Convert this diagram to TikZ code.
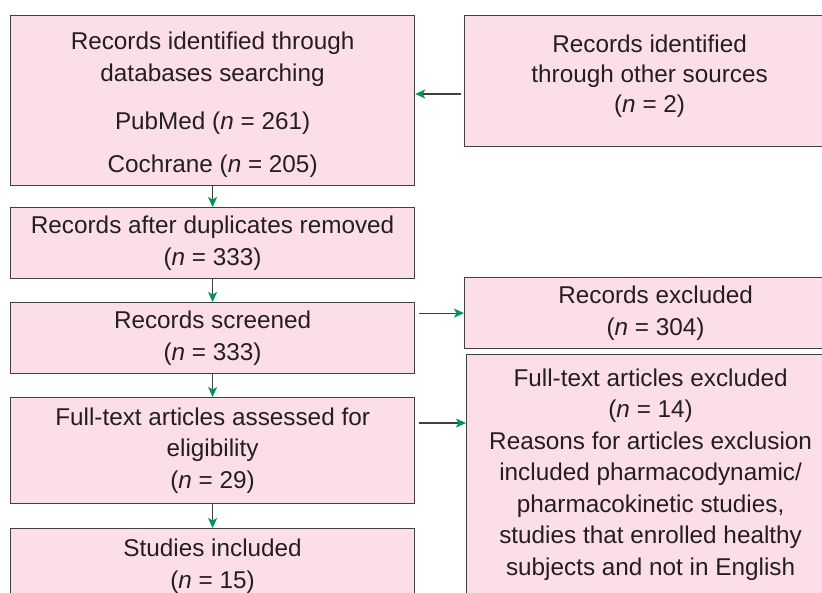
\documentclass[tikz,border=0pt]{standalone}
\usepackage{fontspec}
\setmainfont{Liberation Sans}
\usetikzlibrary{arrows.meta}
\definecolor{boxfill}{RGB}{252,222,233}
\definecolor{boxline}{RGB}{64,64,64}
\definecolor{txt}{RGB}{35,31,32}
\definecolor{agreen}{RGB}{0,150,80}
\tikzset{
  boxbase/.style={draw=boxline, fill=boxfill, line width=1.2pt, anchor=north west,
    inner sep=0pt, text=txt, font=\fontsize{24.3}{31.5}\selectfont},
  box/.style={boxbase, align=center},
  arr/.style={draw=boxline, line width=1.2pt,
    -{Stealth[length=10pt,width=9pt,inset=2.5pt,color=agreen]}},
}
\begin{document}
\begin{tikzpicture}[x=1pt,y=-1pt]
\useasboundingbox (0,0) rectangle (822,592);
\clip (0,0) rectangle (822,592);
\node[boxbase] (b1) at (10,15)
  {\parbox[c][170pt][c]{404pt}{\centering\vspace*{8pt}Records identified through\\databases searching\\[17pt]PubMed (\textit{n} = 261)\\[11pt]Cochrane (\textit{n} = 205)\par}};
\node[boxbase] (b2) at (464,15)
  {\parbox[c][131pt][c]{370pt}{\centering Records identified\\[-1.5pt]through other sources\\[-1.5pt](\textit{n} = 2)\par\vspace{10pt}}};
\node[box, minimum width=404pt, minimum height=71pt] (b3) at (10,207)
  {Records after duplicates removed\\(\textit{n} = 333)};
\node[box, minimum width=404pt, minimum height=71pt] (b4) at (10,302)
  {Records screened\\(\textit{n} = 333)};
\node[box, minimum width=404pt, minimum height=106pt] (b5) at (10,397)
  {Full-text articles assessed for\\eligibility\\(\textit{n} = 29)};
\node[box, minimum width=404pt, minimum height=75pt] (b6) at (10,528)
  {Studies included\\(\textit{n} = 15)};
\node[box, minimum width=382pt, minimum height=71pt] (b7) at (464,277)
  {Records excluded\\(\textit{n} = 304)};
\node[box, minimum width=368pt, minimum height=240pt] (b8) at (466,354)
  {Full-text articles excluded\\(\textit{n} = 14)\\Reasons for articles exclusion\\included pharmacodynamic/\\pharmacokinetic studies,\\studies that enrolled healthy\\subjects and not in English};
\coordinate (y1) at (0,94);
\coordinate (y2) at (0,423);
\draw[arr, shorten <=3pt] (b2.west |- y1) -- (b1.east |- y1);
\draw[arr] (b1.south) -- (b3.north);
\draw[arr] (b3.south) -- (b4.north);
\draw[arr] (b4.south) -- (b5.north);
\draw[arr] (b5.south) -- (b6.north);
\draw[arr, shorten <=4pt] (b4.east |- b7.west) -- (b7.west);
\draw[arr, shorten <=4pt] (b5.east |- y2) -- (b8.west |- y2);
\end{tikzpicture}
\end{document}
